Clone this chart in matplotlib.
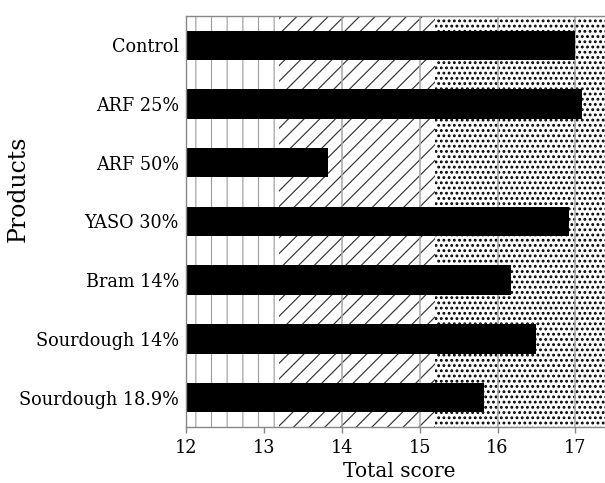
import matplotlib.pyplot as plt
import numpy as np

products = ['Control', 'ARF 25%', 'ARF 50%', 'YASO 30%', 'Bram 14%',
            'Sourdough 14%', 'Sourdough 18.9%']
scores = [17.0, 17.08, 13.82, 16.92, 16.17, 16.49, 15.83]

# quality bands on the score axis
band_edges = [12.0, 13.2, 15.2, 17.38]
band_hatch = ['|', '//', '...']
band_color = ['#a0a0a0', '#333333', '#000000']
band_lw = [0.9, 0.9, 1.4]

DPI = 94
k = 100 / DPI  # keep pixel sizes as tuned at 100 dpi

plt.rcParams['font.family'] = 'DejaVu Serif'

fig = plt.figure(figsize=(605 / DPI, 483 / DPI), dpi=DPI)
ax = fig.add_axes([0.3074, 0.116, 0.6926, 0.851])

for i in range(len(band_hatch)):
    with plt.rc_context({'hatch.linewidth': band_lw[i]}):
        span = ax.axvspan(band_edges[i], band_edges[i + 1], facecolor='white',
                          edgecolor=band_color[i], hatch=band_hatch[i],
                          linewidth=0, zorder=0)
    if hasattr(span, 'set_hatch_linewidth'):
        span.set_hatch_linewidth(band_lw[i])

for x in range(14, 18):
    ax.axvline(x, color='#a8a8a8', linewidth=1.1 * k, zorder=1)

y = np.arange(len(products))
ax.barh(y, np.array(scores) - 12, left=12, height=0.5, color='black', zorder=2)

ax.set_xlim(band_edges[0], band_edges[-1])
ax.set_ylim(len(products) - 0.5, -0.5)
ax.set_yticks(y)
ax.set_yticklabels(products, fontsize=12.7 * k)
ax.set_xticks(range(12, 18))
ax.tick_params(axis='x', labelsize=12.7 * k, length=4 * k, width=k,
               color='#888888', pad=5 * k)
ax.tick_params(axis='y', length=0, pad=5 * k)

for s in ['left', 'bottom', 'top']:
    ax.spines[s].set_color('#888888')
    ax.spines[s].set_linewidth(1.0 * k)
ax.spines['right'].set_visible(False)

ax.set_xlabel('Total score', fontsize=14.5 * k)
ax.set_ylabel('Products', fontsize=17 * k)
ax.yaxis.set_label_coords(-0.372, 0.58)
ax.xaxis.set_label_coords(0.51, -0.085)

fig.savefig('out.png', dpi=DPI)
